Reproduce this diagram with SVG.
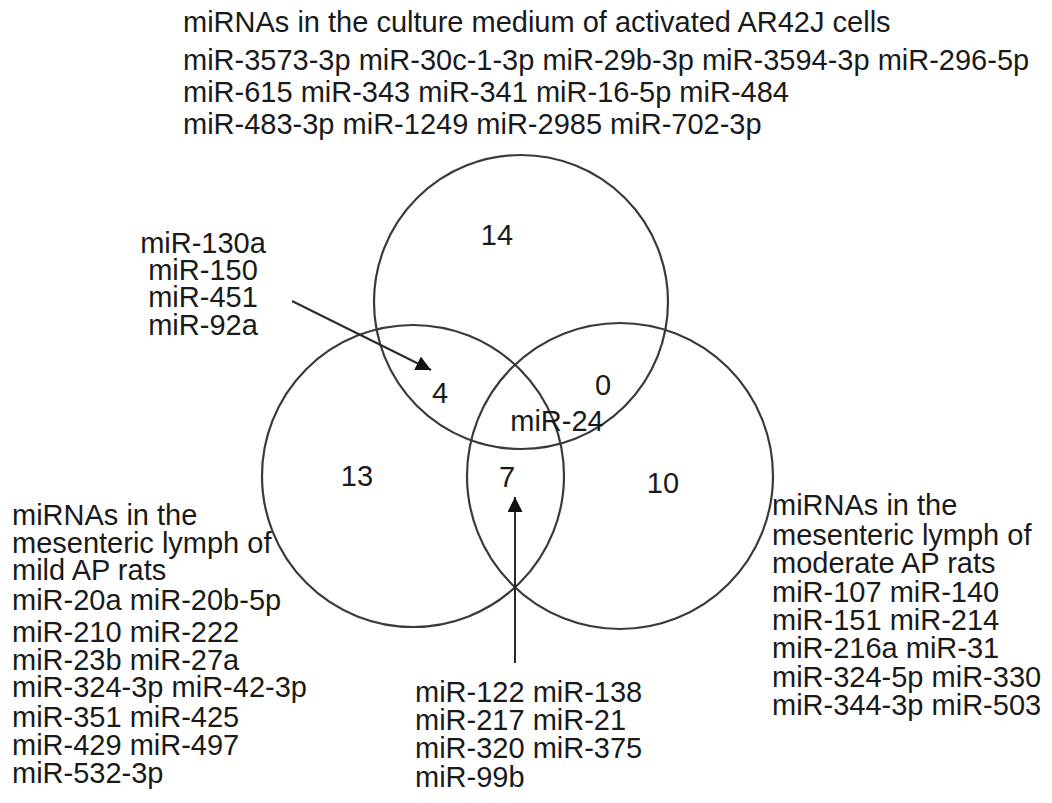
<svg xmlns="http://www.w3.org/2000/svg" width="1052" height="803" viewBox="0 0 1052 803">
<style>
text{font-family:"Liberation Sans",Arial,sans-serif;font-size:29px;fill:#1a1a1a}
.c{fill:none;stroke:#3a3a3a;stroke-width:2.2}
.a{stroke:#2a2a2a;stroke-width:2;fill:none}
.m{text-anchor:middle}
</style>
<defs>
<marker id="ah" viewBox="0 0 12 12" refX="12" refY="6" markerWidth="15" markerHeight="15" markerUnits="userSpaceOnUse" orient="auto">
<path d="M0,0 L12,6 L0,12 Z" fill="#111"/>
</marker>
</defs>
<rect width="1052" height="803" fill="#fff"/>
<g id="circle-top"><circle class="c" cx="521" cy="302" r="147"/></g>
<g id="circle-left"><circle class="c" cx="413" cy="476" r="151"/></g>
<g id="circle-right"><circle class="c" cx="620" cy="476" r="153"/></g>
<g id="connectors">
<line class="a" x1="292" y1="301" x2="431" y2="370" marker-end="url(#ah)"/>
<line class="a" x1="515" y1="663" x2="515" y2="497" marker-end="url(#ah)"/>
</g>
<g id="counts">
<text class="m" x="497" y="245">14</text>
<text class="m" x="440" y="403">4</text>
<text class="m" x="603" y="395">0</text>
<text class="m" x="557" y="431">miR-24</text>
<text class="m" x="357" y="486">13</text>
<text class="m" x="507" y="487">7</text>
<text class="m" x="663" y="493">10</text>
</g>
<g id="label-top">
<text x="183" y="32">miRNAs in the culture medium of activated AR42J cells</text>
<text x="183" y="70">miR-3573-3p miR-30c-1-3p miR-29b-3p miR-3594-3p miR-296-5p</text>
<text x="183" y="102">miR-615 miR-343 miR-341 miR-16-5p miR-484</text>
<text x="183" y="134">miR-483-3p miR-1249 miR-2985 miR-702-3p</text>
</g>
<g id="label-overlap-top-left">
<text class="m" x="203" y="253">miR-130a</text>
<text class="m" x="203" y="280">miR-150</text>
<text class="m" x="203" y="307">miR-451</text>
<text class="m" x="203" y="335">miR-92a</text>
</g>
<g id="label-left">
<text x="12" y="525">miRNAs in the</text>
<text x="12" y="553">mesenteric lymph of</text>
<text x="12" y="580">mild AP rats</text>
<text x="12" y="610">miR-20a miR-20b-5p</text>
<text x="12" y="642">miR-210 miR-222</text>
<text x="12" y="670">miR-23b miR-27a</text>
<text x="12" y="697">miR-324-3p miR-42-3p</text>
<text x="12" y="727">miR-351 miR-425</text>
<text x="12" y="755">miR-429 miR-497</text>
<text x="12" y="783">miR-532-3p</text>
</g>
<g id="label-right">
<text x="772" y="515">miRNAs in the</text>
<text x="772" y="545">mesenteric lymph of</text>
<text x="772" y="573">moderate AP rats</text>
<text x="772" y="602">miR-107 miR-140</text>
<text x="772" y="630">miR-151 miR-214</text>
<text x="772" y="658">miR-216a miR-31</text>
<text x="772" y="687">miR-324-5p miR-330</text>
<text x="772" y="715">miR-344-3p miR-503</text>
</g>
<g id="label-bottom">
<text x="415" y="702">miR-122 miR-138</text>
<text x="415" y="730">miR-217 miR-21</text>
<text x="415" y="758">miR-320 miR-375</text>
<text x="415" y="787">miR-99b</text>
</g>
</svg>
